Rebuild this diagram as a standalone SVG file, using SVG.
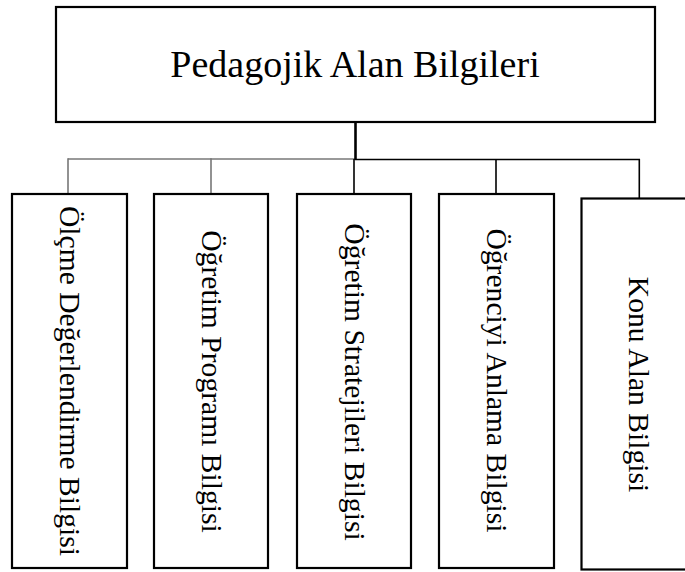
<svg xmlns="http://www.w3.org/2000/svg" width="685" height="572" viewBox="0 0 685 572">
<style>
.box{fill:#fff;stroke:#000;stroke-width:2.2}
.t{font-family:"Liberation Serif","Times New Roman",serif;fill:#000}
.title{font-size:38px}
.v{font-size:29.6px}
.c1{stroke:#777;stroke-width:1.6;fill:none}
.c2{stroke:#000;stroke-width:1.6;fill:none}
.c3{stroke:#000;stroke-width:2.6;fill:none}
</style>
<rect x="0" y="0" width="685" height="572" fill="#fff"/>
<g id="connectors">
<line class="c1" x1="68" y1="159" x2="355" y2="159"/>
<line class="c1" x1="68" y1="158.2" x2="68" y2="193"/>
<line class="c1" x1="211" y1="158.2" x2="211" y2="193"/>
<line class="c2" x1="354" y1="159" x2="354" y2="193"/>
<line class="c3" x1="355.5" y1="122" x2="355.5" y2="160"/>
<polyline class="c2" points="355,159.5 639.3,159.5 639.3,198"/>
<line class="c2" x1="496" y1="159" x2="496" y2="193"/>
</g>
<g id="root">
<rect class="box" x="56" y="7" width="599" height="115"/>
<text class="t title" x="355" y="77" text-anchor="middle">Pedagojik Alan Bilgileri</text>
</g>
<g id="n1">
<rect class="box" x="12" y="194" width="115" height="374"/>
<text class="t v" transform="translate(60,381) rotate(90)" text-anchor="middle">Ölçme Değerlendirme Bilgisi</text>
</g>
<g id="n2">
<rect class="box" x="154" y="194" width="114" height="374"/>
<text class="t v" transform="translate(201.5,381.5) rotate(90)" text-anchor="middle">Öğretim Programı Bilgisi</text>
</g>
<g id="n3">
<rect class="box" x="297" y="194" width="114" height="374"/>
<text class="t v" transform="translate(344.5,382) rotate(90)" text-anchor="middle">Öğretim Stratejileri Bilgisi</text>
</g>
<g id="n4">
<rect class="box" x="439" y="194" width="115" height="374"/>
<text class="t v" transform="translate(487,380.5) rotate(90)" text-anchor="middle">Öğrenciyi Anlama Bilgisi</text>
</g>
<g id="n5">
<rect class="box" x="581.5" y="198.5" width="116" height="371"/>
<text class="t v" transform="translate(629,384.5) rotate(90)" text-anchor="middle">Konu Alan Bilgisi</text>
</g>
</svg>
